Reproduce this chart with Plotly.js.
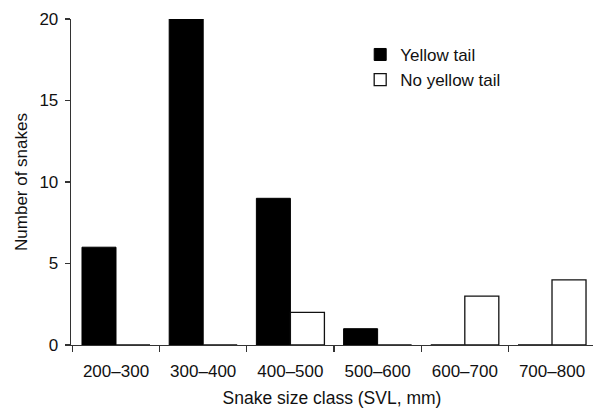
<!DOCTYPE html>
<html>
<head>
<meta charset="utf-8">
<script src="https://cdn.plot.ly/plotly-3.0.1.min.js"></script>
<style>html,body{margin:0;padding:0;background:#fff;}#chart{width:593px;height:410px;}</style>
</head>
<body>
<div id="chart"></div>
<script>
var categories = ["200–300", "300–400", "400–500", "500–600", "600–700", "700–800"];
var yellowTail = [6, 20, 9, 1, 0, 0];
var noYellowTail = [0, 0, 2, 0, 3, 4];
var seriesNames = ["Yellow tail", "No yellow tail"];
var yTicks = [0, 5, 10, 15, 20];

var fontFam = "Liberation Sans, Arial, sans-serif";
var data = [
  {type: "bar", name: seriesNames[0], x: categories, y: yellowTail,
   marker: {color: "#000", line: {color: "#000", width: 1}}},
  {type: "bar", name: seriesNames[1], x: categories, y: noYellowTail,
   marker: {color: "#fff", line: {color: "#111", width: 1.3}}}
];
var layout = {
  width: 593, height: 410,
  margin: {l: 71, r: 0, t: 19, b: 65},
  paper_bgcolor: "#fff", plot_bgcolor: "#fff",
  font: {family: fontFam, size: 17, color: "#111"},
  barmode: "group", bargap: 0.22, bargroupgap: 0,
  showlegend: true,
  legend: {x: 0.554, y: 0.945, xanchor: "left", yanchor: "top", bgcolor: "rgba(0,0,0,0)",
           font: {size: 17, family: fontFam}, tracegroupgap: 0},
  xaxis: {type: "category", range: [-0.516, 5.47], showline: true, linecolor: "#333", linewidth: 1.3,
          ticks: "outside", tickson: "boundaries", ticklen: 6, tickcolor: "#333", tickwidth: 1.3,
          ticklabelstandoff: 10,
          showgrid: false, zeroline: false,
          title: {text: "Snake size class (SVL, mm)", font: {size: 17.5}, standoff: 12}},
  yaxis: {range: [0, 20], tickvals: yTicks, showline: true, linecolor: "#333", linewidth: 1.3,
          ticks: "outside", ticklen: 5, tickcolor: "#333", tickwidth: 1.3,
          ticklabelstandoff: 3,
          showgrid: false, zeroline: false,
          title: {text: "Number of snakes", font: {size: 17}, standoff: 7}}
};
Plotly.newPlot("chart", data, layout, {displayModeBar: false, staticPlot: true});
</script>
</body>
</html>
